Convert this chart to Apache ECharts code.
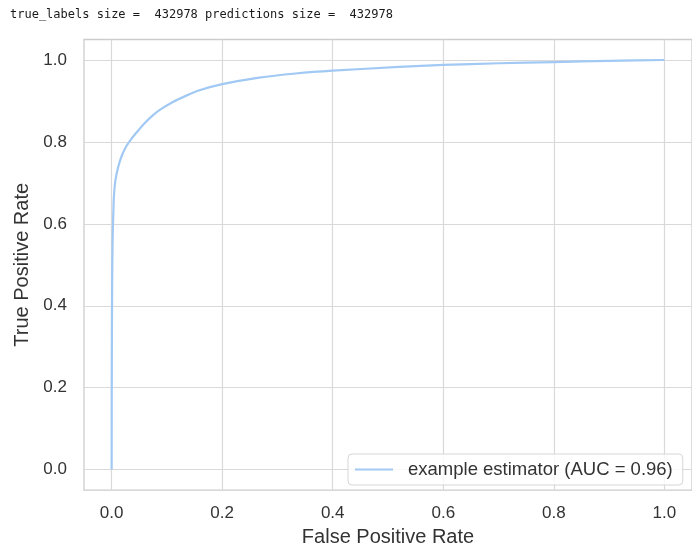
<!DOCTYPE html>
<html>
<head>
<meta charset="utf-8">
<script src="https://cdn.jsdelivr.net/npm/echarts@6/dist/echarts.min.js"></script>
<style>
  html, body { margin: 0; padding: 0; background: #ffffff; }
  #chart { width: 692px; height: 552px; }
</style>
</head>
<body>
<div id="chart"></div>
<script>
// ROC curve: false positive rate vs true positive rate
const fpr = [0, 0.0003, 0.0008, 0.0012, 0.0018, 0.0025, 0.004, 0.0067, 0.0115, 0.018, 0.026, 0.036, 0.047,
             0.06, 0.074, 0.087, 0.11, 0.135, 0.159, 0.2, 0.267, 0.333, 0.4, 0.52, 0.6, 0.7, 0.8, 0.9, 1.0];
const tpr = [0, 0.25, 0.42, 0.5, 0.56, 0.6, 0.664, 0.705, 0.737, 0.765, 0.788, 0.808, 0.826,
             0.846, 0.864, 0.878, 0.897, 0.913, 0.926, 0.941, 0.957, 0.967, 0.974, 0.983, 0.988, 0.992, 0.995, 0.998, 1.0];
const xTicks = [0, 0.2, 0.4, 0.6, 0.8, 1.0];
const yTicks = [0, 0.2, 0.4, 0.6, 0.8, 1.0];
const seriesName = 'example estimator (AUC = 0.96)';
const headerText = 'true_labels size =  432978 predictions size =  432978';

const points = fpr.map((x, i) => [x, tpr[i]]);

const chart = echarts.init(document.getElementById('chart'), null, { renderer: 'canvas' });

const tickText = { color: '#333333', fontSize: 17, fontFamily: 'Liberation Sans, Arial, sans-serif' };
const gridLine = { show: true, lineStyle: { color: '#d9d9d9', width: 1.2 } };

chart.setOption({
  animation: false,
  backgroundColor: '#ffffff',
  graphic: [{
    type: 'text',
    left: 10,
    top: 9,
    style: {
      text: headerText,
      fontFamily: 'DejaVu Sans Mono, monospace',
      fontSize: 12,
      fill: '#1a1a1a'
    }
  }],
  grid: {
    left: 84, top: 39.5, width: 610, height: 455,
    show: true, borderColor: '#cccccc', borderWidth: 1.3, backgroundColor: 'transparent'
  },
  legend: {
    data: [seriesName],
    left: 348, top: 454,
    padding: [6, 10, 6, 7],
    backgroundColor: 'rgba(255,255,255,0.8)',
    borderColor: '#d6d6d6', borderWidth: 1, borderRadius: 4,
    itemWidth: 38, itemHeight: 2,
    icon: 'rect',
    textStyle: {
      color: '#333333', fontSize: 18.5, lineHeight: 19,
      fontFamily: 'Liberation Sans, Arial, sans-serif',
      padding: [0, 0, 0, 10]
    }
  },
  xAxis: {
    type: 'value',
    min: -0.05, max: 1.05,
    name: 'False Positive Rate',
    nameLocation: 'middle',
    nameGap: 34,
    nameTextStyle: { color: '#333333', fontSize: 20, fontFamily: 'Liberation Sans, Arial, sans-serif' },
    axisLine: { show: false },
    axisTick: { show: false, customValues: xTicks },
    axisLabel: Object.assign({ customValues: xTicks, margin: 15, formatter: v => v.toFixed(1) }, tickText),
    splitLine: gridLine
  },
  yAxis: {
    type: 'value',
    min: -0.05, max: 1.05,
    name: 'True Positive Rate',
    nameLocation: 'middle',
    nameGap: 48,
    nameTextStyle: { color: '#333333', fontSize: 20, fontFamily: 'Liberation Sans, Arial, sans-serif' },
    axisLine: { show: false },
    axisTick: { show: false, customValues: yTicks },
    axisLabel: Object.assign({ customValues: yTicks, margin: 17, formatter: v => v.toFixed(1) }, tickText),
    splitLine: gridLine
  },
  series: [{
    name: seriesName,
    type: 'line',
    data: points,
    showSymbol: false,
    smooth: 0.2,
    lineStyle: { color: '#a1c9f4', width: 2.2 },
    itemStyle: { color: '#a1c9f4' },
    z: 3
  }]
});
</script>
</body>
</html>
